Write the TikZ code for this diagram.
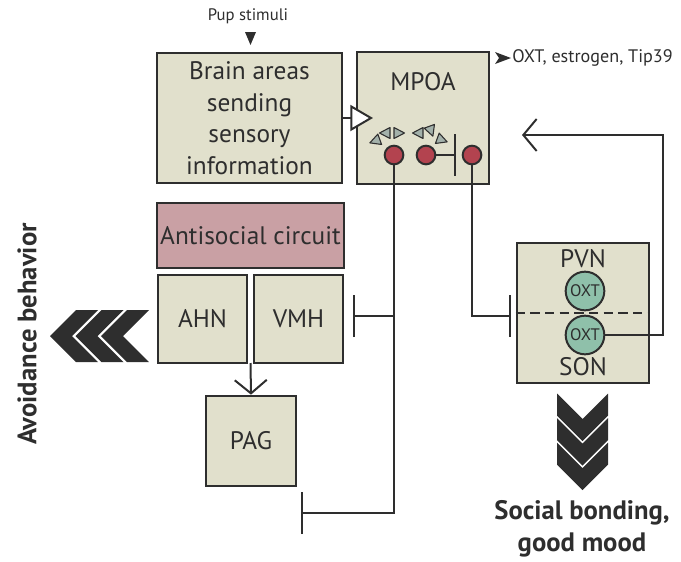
\documentclass[tikz,border=0pt]{standalone}
\usepackage{fontspec}
\setmainfont{PT Sans}
\usetikzlibrary{arrows.meta}

\definecolor{ink}{HTML}{2E2E2E}
\definecolor{boxfill}{HTML}{E1E0CC}
\definecolor{antifill}{HTML}{C9A0A4}
\definecolor{cellred}{HTML}{B3434F}
\definecolor{oxtgreen}{HTML}{8FC0AA}
\definecolor{ligand}{HTML}{A3B1AA}

\tikzset{
  region/.style={draw=ink, line width=2pt, fill=boxfill, text=ink, inner sep=0pt,
    align=center, font=\fontsize{19}{23.6}\selectfont},
  cell/.style={circle, draw=ink, line width=1.5pt, fill=cellred, minimum size=14pt, inner sep=0pt},
  oxt/.style={circle, draw=ink, line width=1.5pt, fill=oxtgreen, minimum size=29pt,
    inner sep=0pt, text=ink, font=\fontsize{12.5}{12.5}\selectfont},
  lbl/.style={text=ink, font=\fontsize{19}{19}\selectfont, inner sep=0pt},
  link/.style={draw=ink, line width=1.5pt},
  inhib/.style={link, -{Bar[width=31.5pt]}},
  excite/.style={link, -{Straight Barb[length=10pt, width=24pt]}},
  chev/.style={fill=ink},
  lig/.style={fill=ligand, draw=ink, line width=0.8pt, line join=round},
}

\begin{document}
\begin{tikzpicture}[x=0.75pt, y=-0.75pt]
  \useasboundingbox (0,0) rectangle (681,561);

  % input
  \node[lbl, font=\fontsize{12.5}{12.5}\selectfont] (pup) at (248,16) {Pup stimuli};
  \fill[ink] (245,32) -- (256,32) -- (250.5,45) -- cycle;

  % regions
  \node[region, minimum width=138.75pt, minimum height=97.5pt] (brain) at (249.5,118)
    {Brain areas\\sending\\sensory\\information};
  \node[region, minimum width=99pt, minimum height=99pt] (mpoa) at (423,118) {};
  \node[lbl] (mpoalbl) at (423,82) {MPOA};

  \node[region, fill=antifill, minimum width=140.25pt, minimum height=48.75pt] (anti) at (250.5,235.5)
    {Antisocial circuit};
  \node[region, minimum width=66.75pt, minimum height=66pt] (ahn) at (202.5,319) {AHN};
  \node[region, minimum width=66.75pt, minimum height=66pt] (vmh) at (298.5,319) {VMH};
  \node[region, minimum width=67.5pt, minimum height=67.5pt] (pag) at (251,441) {PAG};

  \node[region, minimum width=99pt, minimum height=105pt] (pvn) at (583,313) {};
  \node[lbl] (pvnlbl) at (583,259) {PVN};
  \node[lbl] (sonlbl) at (583,367) {SON};
  \draw[ink, line width=1.5pt, dash pattern=on 7pt off 4pt] (pvn.west) -- (pvn.east);
  \node[oxt] (oxt1) at (585,291) {OXT};
  \node[oxt] (oxt2) at (585,335) {OXT};

  % MPOA cells
  \node[cell] (c1) at (394,155) {};
  \node[cell] (c2) at (426,155) {};
  \node[cell] (c3) at (472,155) {};

  % ligands on the cells
  \foreach \x/\y/\a in {375/141/200, 385/133/180, 399/133/0,
                        418/133/180, 431/131/-70, 442/140/-20}
    \filldraw[lig, shift={(\x,\y)}, rotate=\a] (5.5,0) -- (-5,5.5) -- (-5,-5.5) -- cycle;

  % legend
  \node[lbl, anchor=west, font=\fontsize{13.6}{13.6}\selectfont] (liglbl) at (512,58) {OXT, estrogen, Tip39};
  \fill[ink, shift={(liglbl.west)}] (-17,-6) -- (-1,0) -- (-17,6) -- (-13,0) -- cycle;

  % connections
  \coordinate (mpoain) at (373,118);
  \draw[link, -{Triangle[length=17pt, width=19.5pt, fill=white]}] (brain.east) -- (mpoain);

  \coordinate (c3bar) at (456,155);
  \coordinate (vmhbar) at (353,316);
  \coordinate (pagbar) at (301,513);
  \coordinate (pvnbar) at (511,316);
  \draw[inhib] (c2.east) -- (c3bar);
  \draw[inhib] (c1.south) |- (pagbar);
  \draw[inhib] (c1 |- vmhbar) -- (vmhbar);
  \draw[inhib] (c3.south) |- (pvnbar);

  \coordinate (fbright) at (663,135);
  \coordinate (fbtip) at (522,135);
  \draw[excite] (oxt2.east) -| (fbright) -- (fbtip);

  \coordinate (gap) at (250.5,363);
  \draw[excite] (gap) -- (pag.north);

  % output chevrons
  \foreach \t in {50,75.5,101}
    \fill[chev] (\t,336) -- (\t+26,310) -- (\t+48,310) -- (\t+22,336) -- (\t+48,362) -- (\t+26,362) -- cycle;
  \foreach \t in {441,465.5,490}
    \fill[chev] (582.5,\t) -- (557,\t-25.5) -- (557,\t-47.5) -- (582.5,\t-22) -- (608,\t-47.5) -- (608,\t-25.5) -- cycle;

  \node[text=ink, rotate=90, font=\bfseries\fontsize{20}{20}\selectfont] (avoid) at (27,334) {Avoidance behavior};
  \node[text=ink, align=center, font=\bfseries\fontsize{20}{24}\selectfont] (social) at (582,529)
    {Social bonding,\\good mood};
\end{tikzpicture}
\end{document}
